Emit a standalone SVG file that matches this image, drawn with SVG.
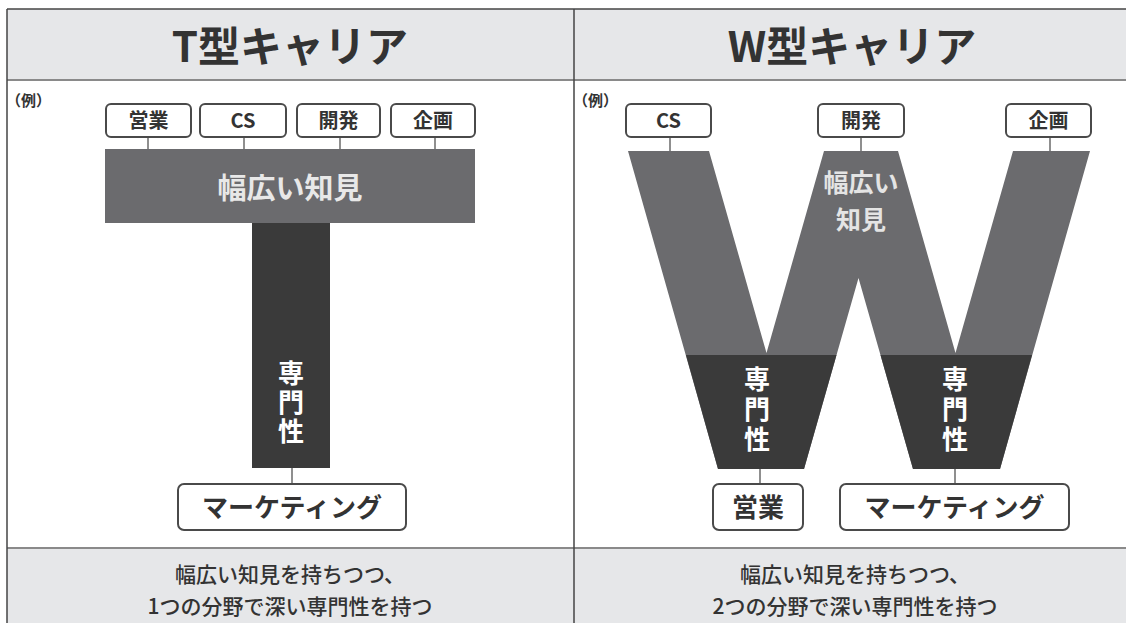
<svg xmlns="http://www.w3.org/2000/svg" width="1126" height="623" viewBox="0 0 1126 623">
<style>
text{font-family:"Noto Sans CJK JP","Noto Sans",sans-serif;}
.title{font-size:42px;font-weight:700;fill:#333;text-anchor:middle;}
.ex{font-size:15px;font-weight:700;fill:#333;}
.box{fill:#fff;stroke:#4a4a4a;stroke-width:2;}
.lbl{font-size:20px;font-weight:700;fill:#333;text-anchor:middle;}
.lbl2{font-size:26px;font-weight:700;fill:#333;text-anchor:middle;}
.conn{stroke:#6a6a6a;stroke-width:1.5;fill:none;}
.broad{fill:#6b6b6e;}
.deep{fill:#3a3a3a;}
.vt{font-size:26px;font-weight:700;fill:#fff;writing-mode:vertical-rl;text-orientation:upright;}
.wt2{font-size:25px;font-weight:700;fill:#e4e4e4;text-anchor:middle;}
.cap{font-size:21px;font-weight:500;fill:#333;text-anchor:middle;}
</style>
<rect x="0" y="0" width="1126" height="623" fill="#fff"/>
<rect x="7" y="9" width="1119" height="71" fill="#e6e7e9"/>
<rect x="7" y="548" width="1119" height="75" fill="#e6e7e9"/>
<line x1="7" y1="9" x2="1126" y2="9" stroke="#444" stroke-width="1.5"/>
<line x1="7" y1="80" x2="1126" y2="80" stroke="#8a8a8a" stroke-width="2"/>
<line x1="7" y1="548" x2="1126" y2="548" stroke="#8a8a8a" stroke-width="2"/>
<line x1="7" y1="9" x2="7" y2="623" stroke="#444" stroke-width="1.5"/>
<line x1="574" y1="9" x2="574" y2="623" stroke="#444" stroke-width="1.5"/>

<text class="title" x="290" y="62">T型キャリア</text>
<text class="title" x="852" y="62">W型キャリア</text>
<text class="ex" x="6" y="106">（例）</text>
<text class="ex" x="573" y="106">（例）</text>

<g id="connectors">
<line class="conn" x1="148" y1="137" x2="148" y2="149"/>
<line class="conn" x1="244" y1="137" x2="244" y2="149"/>
<line class="conn" x1="340" y1="137" x2="340" y2="149"/>
<line class="conn" x1="435" y1="137" x2="435" y2="149"/>
<line class="conn" x1="292" y1="468" x2="292" y2="484"/>
<line class="conn" x1="670" y1="137" x2="670" y2="151"/>
<line class="conn" x1="861" y1="137" x2="861" y2="151"/>
<line class="conn" x1="1050" y1="137" x2="1050" y2="151"/>
<line class="conn" x1="760" y1="469" x2="760" y2="484"/>
<line class="conn" x1="955" y1="469" x2="955" y2="484"/>
</g>

<g id="t-broad">
<rect class="broad" x="105" y="149" width="370" height="74"/>
<text class="wt2" x="290" y="199" style="font-size:29px;fill:#e8e8e8">幅広い知見</text>
</g>
<g id="t-deep">
<rect class="deep" x="252" y="223" width="78" height="245"/>
<text class="vt" x="291" y="360" letter-spacing="3">専門性</text>
</g>
<g id="t-eigyo"><rect class="box" x="106" y="104" width="85" height="33" rx="5"/><text class="lbl" x="148.5" y="128">営業</text></g>
<g id="t-cs"><rect class="box" x="200" y="104" width="86" height="33" rx="5"/><text class="lbl" x="243" y="128">CS</text></g>
<g id="t-kaihatsu"><rect class="box" x="297" y="104" width="83" height="33" rx="5"/><text class="lbl" x="338.5" y="128">開発</text></g>
<g id="t-kikaku"><rect class="box" x="391" y="104" width="84" height="33" rx="5"/><text class="lbl" x="433" y="128">企画</text></g>
<g id="t-marketing"><rect class="box" x="178" y="484" width="228" height="46" rx="6"/><text class="lbl2" x="292" y="517">マーケティング</text></g>

<g id="w-broad">
<path class="broad" d="M628,151 L709,151 L766.5,353 L824,151 L898,151 L955.5,353 L1013,151 L1090,151 L1000,469 L913,469 L858.5,278 L804,469 L718,469 Z"/>
<text class="wt2" x="861" y="192">幅広い</text>
<text class="wt2" x="861" y="229">知見</text>
</g>
<g id="w-deep1">
<path class="deep" d="M686,355 L836.5,355 L804,469 L718,469 Z"/>
<text class="vt" x="757" y="366" letter-spacing="4">専門性</text>
</g>
<g id="w-deep2">
<path class="deep" d="M880.5,355 L1032,355 L1000,469 L913,469 Z"/>
<text class="vt" x="955" y="366" letter-spacing="4">専門性</text>
</g>
<g id="w-cs"><rect class="box" x="626" y="104" width="85" height="33" rx="5"/><text class="lbl" x="668.5" y="128">CS</text></g>
<g id="w-kaihatsu"><rect class="box" x="818" y="104" width="86" height="33" rx="5"/><text class="lbl" x="861" y="128">開発</text></g>
<g id="w-kikaku"><rect class="box" x="1006" y="104" width="85" height="33" rx="5"/><text class="lbl" x="1048.5" y="128">企画</text></g>
<g id="w-eigyo"><rect class="box" x="713" y="484" width="90" height="46" rx="6"/><text class="lbl2" x="758" y="517">営業</text></g>
<g id="w-marketing"><rect class="box" x="840" y="484" width="229" height="46" rx="6"/><text class="lbl2" x="954.5" y="517">マーケティング</text></g>

<text class="cap" x="290" y="582">幅広い知見を持ちつつ、</text>
<text class="cap" x="290" y="614">1つの分野で深い専門性を持つ</text>
<text class="cap" x="855" y="582">幅広い知見を持ちつつ、</text>
<text class="cap" x="855" y="614">2つの分野で深い専門性を持つ</text>
</svg>
